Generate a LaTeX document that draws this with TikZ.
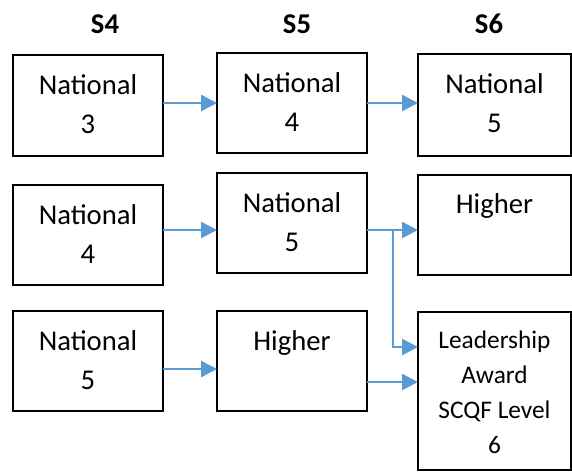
\documentclass[tikz,border=0pt]{standalone}
\usepackage{fontspec}
\setmainfont{Carlito}
\usetikzlibrary{arrows.meta,calc}
\definecolor{arrblue}{HTML}{5B9BD5}
\begin{document}
\begin{tikzpicture}[x=0.75pt,y=-0.75pt,
  box/.style={draw=black,line width=1pt,inner sep=0pt,outer sep=0pt,anchor=north west},
  txt/.style={font=\fontsize{21.5pt}{29.25pt}\selectfont,align=center,inner sep=0pt,anchor=base},
  smalltxt/.style={font=\fontsize{19pt}{26.25pt}\selectfont,align=center,inner sep=0pt,anchor=base},
  head/.style={font=\fontsize{21.5pt}{25pt}\selectfont\bfseries,inner sep=0pt},
  arr/.style={draw=arrblue,line width=2.1pt,-{Triangle[length=12pt,width=12pt]}}]
\useasboundingbox (0,0) rectangle (572,472);
% headers
\node[head] (h4) at (105,24) {S4};
\node[head] (h5) at (297,24) {S5};
\node[head] (h6) at (489,24) {S6};
% S4 column
\node[box,minimum width=112.5pt,minimum height=75.75pt] (a1) at (13,55) {};
\node[box,minimum width=112.5pt,minimum height=75pt] (a2) at (13,185) {};
\node[box,minimum width=112.5pt,minimum height=75pt] (a3) at (13,311) {};
% S5 column
\node[box,minimum width=112.5pt,minimum height=75pt] (b1) at (217,53) {};
\node[box,minimum width=112.5pt,minimum height=75pt] (b2) at (217,173) {};
\node[box,minimum width=112.5pt,minimum height=75pt] (b3) at (217,311) {};
% S6 column
\node[box,minimum width=114.75pt,minimum height=76.5pt] (c1) at (418,54) {};
\node[box,minimum width=114.75pt,minimum height=75pt] (c2) at (418,175) {};
\node[box,minimum width=114.75pt,minimum height=118.5pt] (c3) at (418,312) {};
% texts (anchor base = baseline of last line)
\node[txt] (ta1) at ($(a1.north)+(0,78)$) {National\\3};
\node[txt] (ta2) at ($(a2.north)+(0,78)$) {National\\4};
\node[txt] (ta3) at ($(a3.north)+(0,78)$) {National\\5};
\node[txt] (tb1) at ($(b1.north)+(0,78)$) {National\\4};
\node[txt] (tb2) at ($(b2.north)+(0,78)$) {National\\5};
\node[txt] (tb3) at ($(b3.north)+(0,39)$) {Higher};
\node[txt] (tc1) at ($(c1.north)+(0,78)$) {National\\5};
\node[txt] (tc2) at ($(c2.north)+(0,38)$) {Higher};
\node[smalltxt] (tc3) at ($(c3.north)+(0,141)$) {Leadership\\Award\\SCQF Level\\6};
% connector rows
\coordinate (r1) at (0,103);
\coordinate (r2) at (0,230);
\coordinate (r3) at (0,369);
\coordinate (r4) at (0,347);
\coordinate (r5) at (0,382);
\coordinate (jx) at (393,0);
\draw[arr] (a1.east |- r1) -- (b1.west |- r1);
\draw[arr] (b1.east |- r1) -- (c1.west |- r1);
\draw[arr] (a2.east |- r2) -- (b2.west |- r2);
\draw[arr] (b2.east |- r2) -- (c2.west |- r2);
\draw[arr] (b2.east |- r2) -- (jx |- r2) -- (jx |- r4) -- (c3.west |- r4);
\draw[arr] (a3.east |- r3) -- (b3.west |- r3);
\draw[arr] (b3.east |- r5) -- (c3.west |- r5);
\end{tikzpicture}
\end{document}
